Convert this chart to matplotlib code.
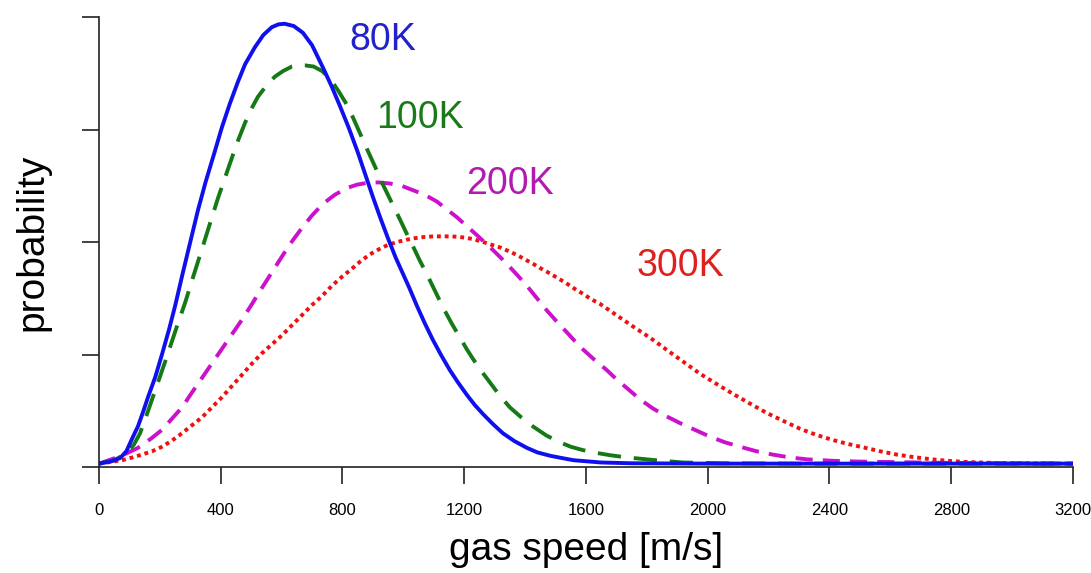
import matplotlib
matplotlib.use("Agg")
import matplotlib.pyplot as plt

plt.rcParams['font.family'] = ['Liberation Sans', 'DejaVu Sans']

# speeds [m/s] and probability (arbitrary units)
v_80 = [0, 40, 70, 90, 112, 128, 145, 161, 185, 207, 230, 250, 275, 300, 325,
        350, 380, 404, 430, 456, 480, 512, 540, 568, 590, 610, 640, 670, 700,
        736, 765, 790, 820, 850, 875, 900, 925, 950, 975, 1000, 1020, 1045,
        1070, 1097, 1125, 1153, 1180, 1209, 1235, 1262, 1295, 1327, 1365, 1406,
        1440, 1482, 1520, 1560, 1650, 1750, 2000, 2400, 2800, 3200]
p_80 = [0.03, 0.05, 0.08, 0.14, 0.27, 0.36, 0.49, 0.62, 0.80, 1.00, 1.22,
        1.43, 1.72, 2.00, 2.28, 2.53, 2.80, 3.02, 3.23, 3.42, 3.58, 3.73, 3.84,
        3.91, 3.935, 3.94, 3.92, 3.86, 3.75, 3.55, 3.38, 3.22, 3.02, 2.80, 2.60,
        2.40, 2.21, 2.03, 1.86, 1.71, 1.59, 1.43, 1.28, 1.13, 0.99, 0.86, 0.75,
        0.64, 0.55, 0.47, 0.38, 0.30, 0.23, 0.17, 0.13, 0.10, 0.08, 0.06, 0.04,
        0.033, 0.03, 0.03, 0.03, 0.03]

v_100 = [0, 50, 90, 115, 135, 155, 177, 200, 223, 240, 260, 283, 306, 327,
         348, 370, 391, 414, 437, 458, 480, 500, 522, 550, 578, 605, 634, 655,
         677, 705, 733, 760, 785, 810, 834, 857, 880, 907, 933, 960, 989, 1010,
         1032, 1055, 1078, 1105, 1130, 1158, 1186, 1210, 1229, 1257, 1285, 1318,
         1350, 1388, 1426, 1470, 1514, 1550, 1590, 1635, 1679, 1720, 1754, 1830,
         1919, 2050, 2300, 2600, 3200]
p_100 = [0.03, 0.06, 0.12, 0.20, 0.30, 0.45, 0.62, 0.80, 0.98, 1.12, 1.28,
         1.46, 1.66, 1.84, 2.02, 2.21, 2.39, 2.57, 2.75, 2.91, 3.06, 3.18, 3.29,
         3.39, 3.47, 3.52, 3.56, 3.57, 3.57, 3.56, 3.52, 3.45, 3.35, 3.24, 3.11,
         2.97, 2.83, 2.67, 2.51, 2.36, 2.20, 2.08, 1.96, 1.83, 1.71, 1.56, 1.42,
         1.28, 1.15, 1.04, 0.96, 0.85, 0.75, 0.63, 0.53, 0.44, 0.36, 0.28, 0.22,
         0.18, 0.15, 0.125, 0.105, 0.09, 0.08, 0.06, 0.04, 0.033, 0.03, 0.03,
         0.03]

v_200 = [0, 53, 90, 128, 170, 207, 240, 273, 305, 338, 371, 404, 437, 470,
         503, 535, 568, 601, 630, 660, 698, 736, 775, 815, 848, 880, 918, 956,
         994, 1032, 1070, 1110, 1143, 1176, 1209, 1242, 1270, 1294, 1335, 1373,
         1406, 1439, 1472, 1505, 1543, 1580, 1625, 1669, 1700, 1735, 1778, 1820,
         1865, 1909, 1958, 2007, 2056, 2106, 2160, 2214, 2270, 2326, 2411, 2500,
         2600, 2750, 2900, 3200]
p_200 = [0.03, 0.08, 0.12, 0.17, 0.25, 0.33, 0.43, 0.53, 0.66, 0.79, 0.92,
         1.05, 1.18, 1.31, 1.45, 1.59, 1.73, 1.87, 1.99, 2.10, 2.23, 2.34, 2.42,
         2.48, 2.51, 2.525, 2.53, 2.52, 2.50, 2.46, 2.42, 2.36, 2.29, 2.22, 2.14,
         2.06, 1.99, 1.93, 1.82, 1.71, 1.61, 1.50, 1.39, 1.29, 1.18, 1.07, 0.96,
         0.86, 0.78, 0.70, 0.60, 0.52, 0.45, 0.39, 0.33, 0.27, 0.22, 0.18, 0.14,
         0.11, 0.085, 0.068, 0.055, 0.048, 0.044, 0.038, 0.034, 0.03]

v_300 = [0, 40, 76, 110, 141, 175, 207, 240, 273, 305, 338, 371, 404, 437,
         470, 503, 535, 568, 601, 634, 667, 700, 733, 765, 798, 830, 860, 890,
         923, 950, 980, 1010, 1040, 1070, 1100, 1143, 1170, 1200, 1230, 1262,
         1290, 1320, 1345, 1373, 1400, 1430, 1455, 1482, 1510, 1540, 1565, 1590,
         1618, 1646, 1673, 1700, 1727, 1754, 1810, 1866, 1920, 1974, 2028, 2083,
         2138, 2194, 2248, 2303, 2357, 2411, 2460, 2510, 2566, 2622, 2676, 2730,
         2784, 2838, 2894, 2950, 3070, 3200]
p_300 = [0.03, 0.045, 0.06, 0.085, 0.11, 0.14, 0.18, 0.235, 0.30, 0.37, 0.44,
         0.53, 0.62, 0.72, 0.82, 0.92, 1.01, 1.09, 1.17, 1.26, 1.35, 1.44, 1.52,
         1.61, 1.69, 1.76, 1.83, 1.89, 1.94, 1.975, 2.00, 2.02, 2.035, 2.045,
         2.05, 2.05, 2.048, 2.04, 2.025, 2.00, 1.975, 1.95, 1.92, 1.885, 1.845,
         1.80, 1.76, 1.72, 1.675, 1.625, 1.58, 1.54, 1.49, 1.45, 1.40, 1.35,
         1.30, 1.25, 1.15, 1.04, 0.935, 0.83, 0.74, 0.65, 0.565, 0.48, 0.41,
         0.34, 0.285, 0.24, 0.205, 0.175, 0.14, 0.11, 0.088, 0.07, 0.056, 0.046,
         0.04, 0.036, 0.032, 0.03]

x_ticks = [0, 400, 800, 1200, 1600, 2000, 2400, 2800, 3200]
y_ticks = [0, 1, 2, 3, 4]

labels = ["80K", "100K", "200K", "300K"]
label_pos = [(932, 3.80), (1054, 3.10), (1350, 2.52), (1909, 1.79)]

fig = plt.figure(figsize=(10.91, 5.73), dpi=100)
ax = fig.add_axes([0.0907, 0.185, 0.8928, 0.7853])

lw = 2.8
ax.plot(v_300, p_300, color="#ee1111", lw=lw, linestyle=(0, (1, 1)),
        dash_capstyle="butt")
ax.plot(v_200, p_200, color="#cc11cc", lw=lw, linestyle=(0, (4.4, 2.6)))
ax.plot(v_100, p_100, color="#157a15", lw=lw, linestyle=(0, (6, 3.3)))
ax.plot(v_80, p_80, color="#1010ee", lw=lw)

text_colors = ["#2222cc", "#1a7a1a", "#b01cb0", "#e0201c"]
for lab, (tx, ty), c in zip(labels, label_pos, text_colors):
    ax.text(tx, ty, lab, color=c, fontsize=27, ha="center", va="center")

ax.set_xlim(0, 3200)
ax.set_ylim(0, 4)
ax.set_xticks(x_ticks)
ax.set_yticks(y_ticks)
ax.set_yticklabels([])
ax.tick_params(direction="out", length=12, width=1.2, color="#222222",
               labelsize=12, pad=14)
for s in ["top", "right"]:
    ax.spines[s].set_visible(False)
for s in ["left", "bottom"]:
    ax.spines[s].set_linewidth(1.2)
    ax.spines[s].set_color("#222222")

ax.set_xlabel("gas speed [m/s]", fontsize=28, labelpad=10)
ax.set_ylabel("probability", fontsize=28, labelpad=9)

fig.savefig("out.png", dpi=100, facecolor="white")
